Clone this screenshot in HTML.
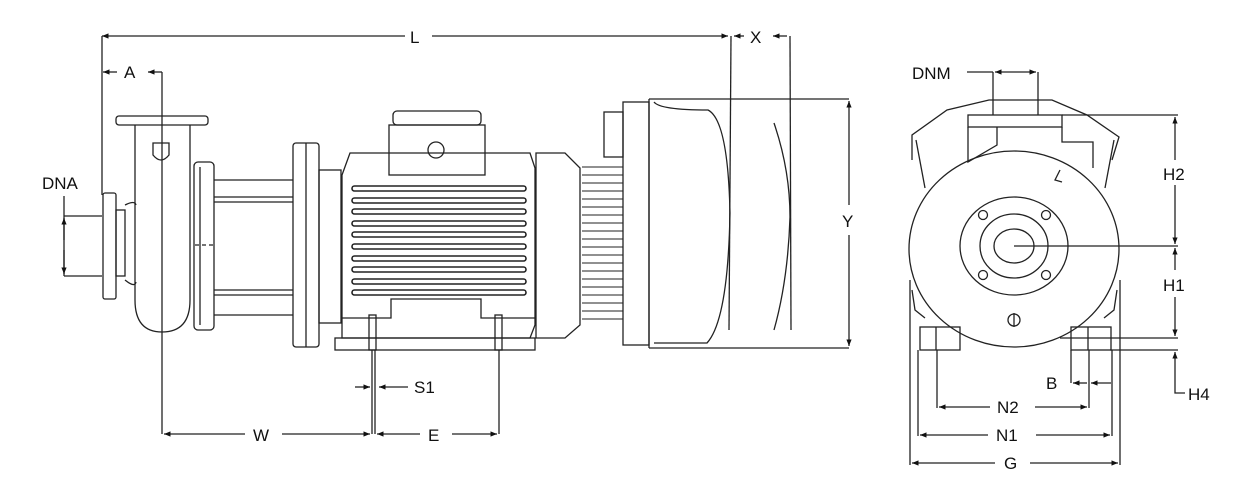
<!DOCTYPE html>
<html><head><meta charset="utf-8"><style>
html,body{margin:0;padding:0;background:#fff;overflow:hidden;}
svg{display:block;}
text{font-family:"Liberation Sans",sans-serif;font-size:17px;fill:#111;}
</style></head><body>
<svg width="1255" height="487" viewBox="0 0 1255 487" xmlns="http://www.w3.org/2000/svg">
<defs>
<marker id="a" viewBox="0 0 10 10" refX="10" refY="5" markerWidth="7" markerHeight="5" orient="auto-start-reverse"><path d="M0,1 L10,5 L0,9 z" fill="#111"/></marker>
</defs>
<g stroke="#222" stroke-width="1.3" fill="none">
<!-- L dimension -->
<line x1="102" y1="36" x2="405" y2="36" marker-start="url(#a)"/>
<line x1="432" y1="36" x2="728" y2="36" marker-end="url(#a)"/>
<line x1="102" y1="36" x2="102" y2="195"/>
<line x1="731" y1="36" x2="729" y2="330"/>
<line x1="734" y1="36" x2="744" y2="36" marker-start="url(#a)"/>
<line x1="773" y1="36" x2="787" y2="36" marker-start="url(#a)"/>
<line x1="790" y1="36" x2="791" y2="330"/>
<!-- A -->
<line x1="103" y1="72" x2="117" y2="72" marker-start="url(#a)"/>
<line x1="148" y1="72" x2="162" y2="72" marker-start="url(#a)"/>
<line x1="162" y1="72" x2="162" y2="125"/>
<!-- DNA -->
<line x1="64" y1="196" x2="64" y2="276"/>
<line x1="64" y1="240" x2="64" y2="218" marker-end="url(#a)"/>
<line x1="64" y1="250" x2="64" y2="274" marker-end="url(#a)"/>
<line x1="64" y1="216" x2="102" y2="216"/>
<line x1="64" y1="276" x2="102" y2="276"/>
<!-- pump volute -->
<rect x="116" y="116" width="92" height="9" rx="3"/>
<path d="M135,125 L135,300 Q135,332 162,332 Q190,332 190,300 L190,125"/>
<line x1="162" y1="125" x2="162" y2="332"/>
<path d="M153,143 L169,143 L169,155 Q161,165 153,155 Z"/>
<rect x="103" y="193" width="13" height="106" rx="2"/>
<rect x="116" y="210" width="9" height="66"/>
<path d="M125,205 Q135,200 136,205 M125,280 Q135,288 136,282"/>
<!-- ring -->
<rect x="194" y="162" width="20" height="168" rx="4"/>
<line x1="200" y1="167" x2="200" y2="325"/>
<!-- lantern -->
<line x1="214" y1="180" x2="293" y2="180"/><line x1="214" y1="197" x2="293" y2="197"/>
<line x1="214" y1="202" x2="293" y2="202"/>
<line x1="214" y1="290" x2="293" y2="290"/><line x1="214" y1="295" x2="293" y2="295"/>
<line x1="214" y1="315" x2="293" y2="315"/>
<line x1="195" y1="245" x2="215" y2="245" stroke-dasharray="4,3"/>
<!-- motor flange -->
<rect x="293" y="143" width="26" height="204" rx="3"/>
<line x1="306" y1="143" x2="306" y2="347"/>
<rect x="319" y="170" width="22" height="153"/>
<!-- motor body -->
<path d="M342,175 L350,153 L530,153 L535,168 L535,325 L530,338 L342,338 L342,325 Z"/>
<rect x="389" y="125" width="96" height="50"/>
<rect x="393" y="111" width="88" height="14" rx="4"/>
<circle cx="436" cy="150" r="8"/>
<g stroke-width="1.6">
<rect x="352" y="186" width="174" height="5" rx="2.5"/>
<rect x="352" y="198" width="174" height="5" rx="2.5"/>
<rect x="352" y="209" width="174" height="5" rx="2.5"/>
<rect x="352" y="221" width="174" height="5" rx="2.5"/>
<rect x="352" y="232" width="174" height="5" rx="2.5"/>
<rect x="352" y="244" width="174" height="5" rx="2.5"/>
<rect x="352" y="256" width="174" height="5" rx="2.5"/>
<rect x="352" y="267" width="174" height="5" rx="2.5"/>
<rect x="352" y="279" width="174" height="5" rx="2.5"/>
<rect x="352" y="290" width="174" height="5" rx="2.5"/>
</g>
<path d="M342,318 L391,318 L391,299 L481,299 L481,318 L535,318"/>
<rect x="335" y="338" width="200" height="12"/>
<rect x="369" y="315" width="7" height="35"/><rect x="495" y="315" width="7" height="35"/>
<!-- S1, W, E -->
<line x1="355" y1="387" x2="370" y2="387" marker-end="url(#a)"/>
<line x1="408" y1="387" x2="379" y2="387" marker-end="url(#a)"/>
<line x1="162" y1="332" x2="162" y2="434"/>
<line x1="372" y1="350" x2="372" y2="434"/>
<line x1="375" y1="350" x2="375" y2="434"/>
<line x1="499" y1="350" x2="499" y2="434"/>
<line x1="164" y1="434" x2="245" y2="434" marker-start="url(#a)"/>
<line x1="282" y1="434" x2="370" y2="434" marker-end="url(#a)"/>
<line x1="377" y1="434" x2="420" y2="434" marker-start="url(#a)"/>
<line x1="452" y1="434" x2="497" y2="434" marker-end="url(#a)"/>
<!-- fan end -->
<path d="M536,153 L565,153 L580,168 L580,325 L565,338 L536,338 Z"/>
<g stroke-width="1">
<path d="M582,167 L623,167 M582,175 L623,175 M582,183 L623,183 M582,191 L623,191 M582,199 L623,199 M582,207 L623,207 M582,215 L623,215 M582,223 L623,223 M582,231 L623,231 M582,239 L623,239 M582,247 L623,247 M582,255 L623,255 M582,263 L623,263 M582,271 L623,271 M582,279 L623,279 M582,287 L623,287 M582,295 L623,295 M582,303 L623,303 M582,311 L623,311 M582,319 L623,319"/>
</g>
<rect x="604" y="112" width="19" height="45"/>
<rect x="623" y="102" width="26" height="243"/>
<path d="M649,99 L849,99 M649,348 L849,348"/>
<line x1="649" y1="99" x2="649" y2="348"/>
<path d="M654,102 Q660,110 708,110 Q728,120 730,213 Q728,320 707,343 L654,343"/>
<path d="M774,123 Q790,170 790,217 Q788,280 774,330"/>
<!-- Y -->
<line x1="849" y1="205" x2="849" y2="101" marker-end="url(#a)"/>
<line x1="849" y1="235" x2="849" y2="346" marker-end="url(#a)"/>
<!-- right view -->
<path d="M912,160 L912,135 L947,110 L989,100 L1052,100 L1087,115 L1119,137 L1112,160"/>
<path d="M916,140 L925,188 M1114,140 L1105,188"/>
<rect x="968" y="115" width="94" height="12"/>
<path d="M968,127 L968,162 L997,145 L997,127 M1062,127 L1062,142 L1093,142 L1093,168"/>
<path d="M1060,170 L1055,180 L1062,182"/>
<ellipse cx="1014" cy="249" rx="105" ry="98"/>
<ellipse cx="1014" cy="246" rx="54" ry="49"/>
<ellipse cx="1014" cy="246" rx="34" ry="32"/>
<ellipse cx="1014" cy="246" rx="20" ry="17"/>
<circle cx="983" cy="215" r="4.5"/><circle cx="1046" cy="215" r="4.5"/>
<circle cx="983" cy="275" r="4.5"/><circle cx="1046" cy="275" r="4.5"/>
<circle cx="1014" cy="320" r="6"/><line x1="1014" y1="313" x2="1014" y2="327"/>
<path d="M912,290 L915,310 L925,318 M1117,290 L1114,310 L1104,318"/>
<rect x="920" y="327" width="40" height="23"/>
<rect x="1071" y="327" width="40" height="23"/>
<line x1="936" y1="327" x2="936" y2="350"/><line x1="1088" y1="327" x2="1088" y2="350"/>
<!-- DNM -->
<line x1="967" y1="72" x2="993" y2="72"/>
<line x1="993" y1="72" x2="993" y2="115"/><line x1="1038" y1="72" x2="1038" y2="115"/>
<line x1="995" y1="72" x2="1015" y2="72" marker-start="url(#a)"/>
<line x1="1015" y1="72" x2="1036" y2="72" marker-end="url(#a)"/>
<!-- H dims -->
<line x1="1062" y1="115" x2="1178" y2="115"/>
<line x1="1014" y1="246" x2="1178" y2="246"/>
<line x1="1060" y1="338" x2="1178" y2="338"/>
<line x1="1110" y1="350" x2="1178" y2="350"/>
<line x1="1175" y1="160" x2="1175" y2="117" marker-end="url(#a)"/>
<line x1="1175" y1="185" x2="1175" y2="244" marker-end="url(#a)"/>
<line x1="1175" y1="270" x2="1175" y2="248" marker-end="url(#a)"/>
<line x1="1175" y1="297" x2="1175" y2="336" marker-end="url(#a)"/>
<path d="M1175,365 L1175,352" marker-end="url(#a)"/>
<path d="M1175,365 L1175,393 L1185,393"/>
<!-- bottom dims right -->
<line x1="937" y1="350" x2="937" y2="408"/>
<line x1="1089" y1="350" x2="1089" y2="408"/>
<line x1="1071" y1="350" x2="1071" y2="383"/>
<line x1="918" y1="350" x2="918" y2="436"/>
<line x1="1112" y1="350" x2="1112" y2="436"/>
<line x1="910" y1="280" x2="910" y2="465"/>
<line x1="1120" y1="280" x2="1120" y2="465"/>
<line x1="1073" y1="383" x2="1087" y2="383" marker-start="url(#a)"/>
<line x1="1091" y1="383" x2="1111" y2="383" marker-start="url(#a)"/>
<line x1="939" y1="407" x2="990" y2="407" marker-start="url(#a)"/>
<line x1="1035" y1="407" x2="1087" y2="407" marker-end="url(#a)"/>
<line x1="920" y1="435" x2="988" y2="435" marker-start="url(#a)"/>
<line x1="1036" y1="435" x2="1110" y2="435" marker-end="url(#a)"/>
<line x1="912" y1="463" x2="995" y2="463" marker-start="url(#a)"/>
<line x1="1030" y1="463" x2="1118" y2="463" marker-end="url(#a)"/>
</g>
<text x="410" y="43">L</text>
<text x="750" y="43">X</text>
<text x="124" y="78">A</text>
<text x="42" y="189">DNA</text>
<text x="842" y="227">Y</text>
<text x="414" y="393">S1</text>
<text x="253" y="441">W</text>
<text x="428" y="441">E</text>
<text x="912" y="79">DNM</text>
<text x="1163" y="180">H2</text>
<text x="1163" y="291">H1</text>
<text x="1188" y="400">H4</text>
<text x="1046" y="389">B</text>
<text x="997" y="413">N2</text>
<text x="996" y="441">N1</text>
<text x="1004" y="469">G</text>
</svg>
</body></html>
